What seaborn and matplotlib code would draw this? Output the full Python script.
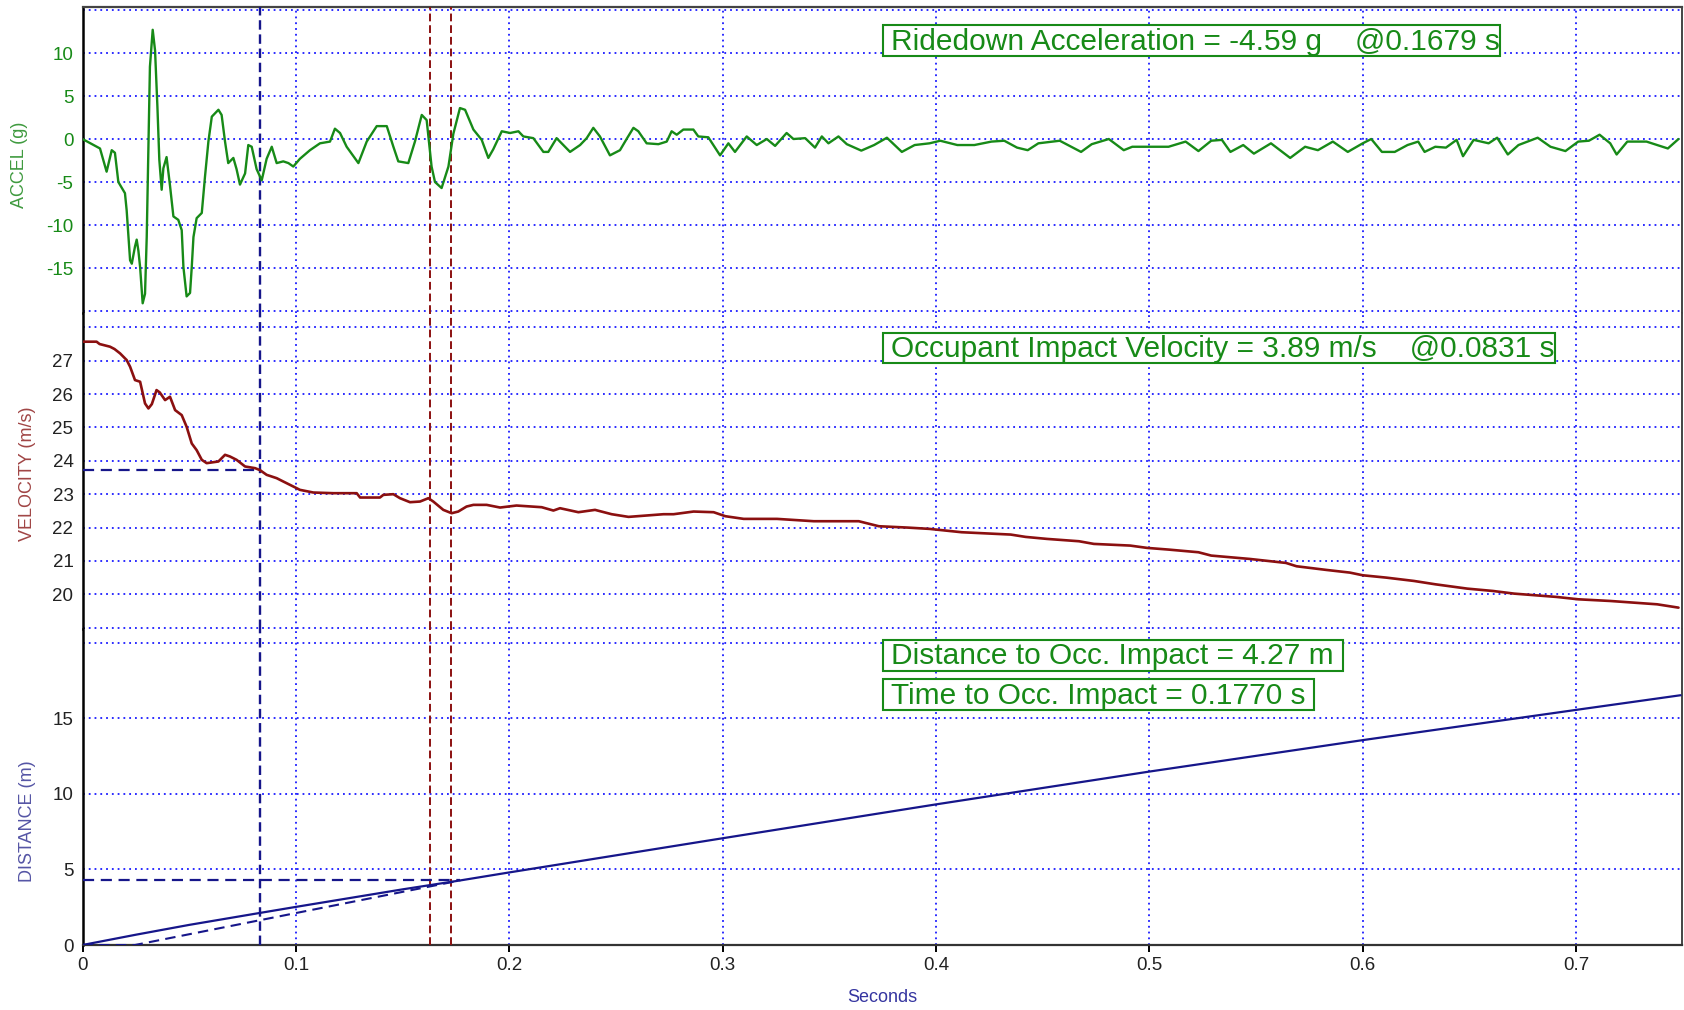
import matplotlib
matplotlib.use("Agg")
import matplotlib.pyplot as plt
from matplotlib.patches import Rectangle
import pandas as pd
import seaborn as sns

# --- accelerometer trace (g) ---
accel_time = [
    0.0000, 0.0082, 0.0113, 0.0137, 0.0152, 0.0168, 0.0199, 0.0207, 0.0223, 0.0231,
    0.0246, 0.0254, 0.0262, 0.0270, 0.0282, 0.0293, 0.0301, 0.0309, 0.0316, 0.0329,
    0.0340, 0.0351, 0.0360, 0.0371, 0.0379, 0.0394, 0.0410, 0.0426, 0.0449, 0.0465,
    0.0473, 0.0488, 0.0504, 0.0512, 0.0520, 0.0535, 0.0559, 0.0574, 0.0590, 0.0606,
    0.0637, 0.0652, 0.0668, 0.0683, 0.0707, 0.0722, 0.0738, 0.0762, 0.0777, 0.0793,
    0.0816, 0.0840, 0.0863, 0.0887, 0.0910, 0.0941, 0.0965, 0.0988, 0.1019, 0.1066,
    0.1113, 0.1160, 0.1183, 0.1207, 0.1238, 0.1293, 0.1332, 0.1379, 0.1426, 0.1457,
    0.1480, 0.1527, 0.1558, 0.1590, 0.1613, 0.1636, 0.1652, 0.1683, 0.1715, 0.1738,
    0.1769, 0.1793, 0.1832, 0.1871, 0.1902, 0.1925, 0.1965, 0.2004, 0.2043, 0.2066,
    0.2113, 0.2160, 0.2183, 0.2222, 0.2285, 0.2332, 0.2363, 0.2394, 0.2425, 0.2472,
    0.2519, 0.2550, 0.2582, 0.2605, 0.2644, 0.2699, 0.2738, 0.2761, 0.2785, 0.2816,
    0.2863, 0.2886, 0.2933, 0.2988, 0.3027, 0.3058, 0.3113, 0.3160, 0.3207, 0.3246,
    0.3300, 0.3332, 0.3387, 0.3433, 0.3465, 0.3496, 0.3543, 0.3582, 0.3650, 0.3710,
    0.3770, 0.3840, 0.3900, 0.3970, 0.4020, 0.4100, 0.4180, 0.4260, 0.4320, 0.4380,
    0.4430, 0.4480, 0.4580, 0.4680, 0.4730, 0.4810, 0.4880, 0.4920, 0.5090, 0.5170,
    0.5230, 0.5290, 0.5340, 0.5380, 0.5440, 0.5490, 0.5570, 0.5660, 0.5730, 0.5790,
    0.5860, 0.5930, 0.6000, 0.6040, 0.6090, 0.6150, 0.6210, 0.6260, 0.6290, 0.6340,
    0.6390, 0.6440, 0.6470, 0.6520, 0.6590, 0.6630, 0.6680, 0.6730, 0.6820, 0.6880,
    0.6950, 0.7010, 0.7060, 0.7110, 0.7160, 0.7190, 0.7240, 0.7330, 0.7380, 0.7430,
    0.7480]
accel_g = [
    0.0, -1.1, -3.8, -1.3, -1.6, -5.0, -6.3, -8.3, -14.1, -14.5,
    -12.5, -11.7, -13.0, -14.9, -19.1, -18.0, -11.4, -0.5, 8.4, 12.7,
    10.3, 3.8, -2.4, -5.9, -3.4, -2.1, -5.4, -9.0, -9.4, -10.6,
    -14.9, -18.3, -17.9, -14.9, -11.4, -9.2, -8.6, -4.4, -0.3, 2.6,
    3.4, 2.8, -0.3, -2.8, -2.2, -3.5, -5.3, -4.0, -0.7, -0.9,
    -3.5, -4.8, -2.3, -0.9, -2.8, -2.6, -2.8, -3.2, -2.3, -1.3,
    -0.5, -0.3, 1.2, 0.7, -0.9, -2.8, -0.3, 1.5, 1.5, -0.9,
    -2.6, -2.8, -0.3, 2.8, 2.2, -3.2, -5.0, -5.7, -3.2, 0.6,
    3.6, 3.4, 1.1, -0.1, -2.2, -1.2, 0.9, 0.7, 0.9, 0.3,
    0.1, -1.5, -1.5, 0.1, -1.5, -0.7, 0.1, 1.3, 0.3, -1.9,
    -1.3, 0.0, 1.3, 0.9, -0.5, -0.6, -0.3, 0.9, 0.5, 1.1,
    1.1, 0.3, 0.2, -1.9, -0.5, -1.5, 0.3, -0.7, 0.0, -0.8,
    0.7, 0.0, 0.1, -1.0, 0.3, -0.5, 0.3, -0.6, -1.35, -0.7,
    0.15, -1.5, -0.7, -0.5, -0.2, -0.7, -0.7, -0.3, -0.2, -1.0,
    -1.3, -0.5, -0.2, -1.5, -0.6, 0.0, -1.3, -0.9, -0.9, -0.3,
    -1.4, -0.2, -0.1, -1.5, -0.7, -1.7, -0.5, -2.2, -0.9, -1.3,
    -0.3, -1.5, -0.5, 0.0, -1.5, -1.5, -0.7, -0.3, -1.5, -0.9,
    -1.0, -0.1, -2.0, -0.1, -0.5, 0.15, -1.8, -0.7, 0.15, -0.9,
    -1.4, -0.3, -0.2, 0.5, -0.5, -1.8, -0.3, -0.3, -0.7, -1.1,
    0.0]

# --- velocity trace (m/s) ---
vel_time = [
    0.0000, 0.0066, 0.0080, 0.0129, 0.0150, 0.0176, 0.0207, 0.0223, 0.0246, 0.0270,
    0.0293, 0.0309, 0.0325, 0.0347, 0.0362, 0.0387, 0.0410, 0.0434, 0.0465, 0.0488,
    0.0512, 0.0535, 0.0559, 0.0582, 0.0637, 0.0668, 0.0691, 0.0722, 0.0762, 0.0809,
    0.0832, 0.0863, 0.0910, 0.0941, 0.0988, 0.1019, 0.1082, 0.1176, 0.1285, 0.1301,
    0.1394, 0.1410, 0.1457, 0.1488, 0.1535, 0.1582, 0.1621, 0.1644, 0.1691, 0.1730,
    0.1761, 0.1800, 0.1832, 0.1894, 0.1957, 0.2034, 0.2152, 0.2207, 0.2238, 0.2324,
    0.2402, 0.2480, 0.2559, 0.2723, 0.2770, 0.2864, 0.2958, 0.3013, 0.3099, 0.3255,
    0.3427, 0.3638, 0.3732, 0.3865, 0.3970, 0.4120, 0.4350, 0.4420, 0.4520, 0.4670,
    0.4740, 0.4910, 0.4990, 0.5090, 0.5230, 0.5290, 0.5470, 0.5640, 0.5690, 0.5830,
    0.5940, 0.6000, 0.6110, 0.6240, 0.6340, 0.6490, 0.6610, 0.6710, 0.6910, 0.7010,
    0.7160, 0.7380, 0.7480]
vel_ms = [
    27.57, 27.57, 27.50, 27.42, 27.35, 27.22, 27.02, 26.82, 26.42, 26.37,
    25.72, 25.57, 25.70, 26.12, 26.05, 25.82, 25.92, 25.52, 25.37, 25.02,
    24.52, 24.32, 24.03, 23.93, 23.98, 24.18, 24.13, 24.03, 23.83, 23.78,
    23.72, 23.58, 23.48, 23.38, 23.23, 23.13, 23.05, 23.03, 23.03, 22.90,
    22.90, 22.98, 23.00, 22.88, 22.76, 22.78, 22.88, 22.78, 22.53, 22.43,
    22.48, 22.63, 22.68, 22.68, 22.60, 22.66, 22.61, 22.51, 22.58, 22.46,
    22.53, 22.40, 22.32, 22.40, 22.40, 22.48, 22.46, 22.34, 22.26, 22.26,
    22.19, 22.19, 22.04, 22.00, 21.96, 21.86, 21.79, 21.72, 21.66, 21.59,
    21.51, 21.46, 21.39, 21.34, 21.26, 21.16, 21.06, 20.94, 20.84, 20.73,
    20.65, 20.57, 20.50, 20.40, 20.30, 20.17, 20.10, 20.02, 19.92, 19.85,
    19.80, 19.70, 19.60]

# --- displacement trace (m) ---
dist_time = [0.0, 0.025, 0.05, 0.0831, 0.1, 0.15, 0.177, 0.2, 0.3, 0.4, 0.5, 0.6, 0.7, 0.749]
dist_m = [0.0, 0.68, 1.33, 2.12, 2.52, 3.68, 4.27, 4.8, 7.06, 9.3, 11.47, 13.55, 15.55, 16.52]

# occupant flail path (dashed) and event markers
flail_time = [0.0, 0.0246, 0.177]
flail_m = [0.0, 0.0, 4.27]
oiv_time = 0.0831
v_at_oiv = 23.72
ridedown_window = [0.1629, 0.1729]
impact_time = 0.177
impact_dist = 4.27

annotations = [
    "Ridedown Acceleration = -4.59 g    @0.1679 s",
    "Occupant Impact Velocity = 3.89 m/s    @0.0831 s",
    "Distance to Occ. Impact = 4.27 m",
    "Time to Occ. Impact = 0.1770 s",
]

assert len(accel_time) == len(accel_g)
assert len(vel_time) == len(vel_ms)

accel = pd.DataFrame({"t": accel_time, "g": accel_g})
vel = pd.DataFrame({"t": vel_time, "v": vel_ms})
dist = pd.DataFrame({"t": dist_time, "d": dist_m})

sns.set_style("white")
plt.rcParams['font.family'] = ['Liberation Sans', 'DejaVu Sans']

W, H = 1684, 1010
GREEN = "#178a17"
RED = "#8b1010"
NAVY = "#16168a"
GRID = "#1a1aff"

fig = plt.figure(figsize=(W / 100, H / 100), dpi=100)
gs = fig.add_gridspec(3, 1, height_ratios=[306, 316, 316], hspace=0,
                      left=82.5 / W, right=1681.5 / W, top=1 - 7 / H, bottom=1 - 945 / H)
ax_a = fig.add_subplot(gs[0])
ax_v = fig.add_subplot(gs[1], sharex=ax_a)
ax_d = fig.add_subplot(gs[2], sharex=ax_a)

grid_kw = dict(color=GRID, lw=1.3, ls=(0, (1, 2.2)), zorder=1)
panels = [
    (ax_a, (-20.23, 15.35), [-20, -15, -10, -5, 0, 5, 10, 15], [-15, -10, -5, 0, 5, 10], GREEN),
    (ax_v, (18.96, 28.43), list(range(19, 29)), list(range(20, 28)), "#222222"),
    (ax_d, (0, 20.9), [5, 10, 15, 20], [0, 5, 10, 15], "#222222"),
]
for ax, ylim, gridvals, ticks, tcol in panels:
    ax.set_ylim(*ylim)
    for y in gridvals:
        ax.axhline(y, **grid_kw)
    for x in [0.1, 0.2, 0.3, 0.4, 0.5, 0.6, 0.7]:
        ax.axvline(x, **grid_kw)
    ax.set_yticks(ticks)
    ax.set_yticklabels([str(t) for t in ticks])
    ax.tick_params(axis="y", direction="inout", length=7, width=1.4, color="black",
                   labelsize=13.5, labelcolor=tcol, pad=3)
    ax.set_ylabel("")
    for s in ["left", "right", "top", "bottom"]:
        ax.spines[s].set_visible(False)
    ax.spines["left"].set_visible(True)
    ax.spines["left"].set_color("black")
    ax.spines["left"].set_linewidth(1.8)
    ax.spines["right"].set_visible(True)
    ax.spines["right"].set_color("#444444")
    ax.spines["right"].set_linewidth(1.4)
    # event markers across every panel
    ax.axvline(oiv_time, color=NAVY, lw=1.7, ls=(0, (4, 2)), zorder=3)
    for x in ridedown_window:
        ax.axvline(x, color=RED, lw=1.4, ls=(0, (4, 2)), zorder=3)

ax_a.spines["top"].set_visible(True)
ax_a.spines["top"].set_color("#444444")
ax_a.spines["top"].set_linewidth(1.6)
ax_d.spines["bottom"].set_visible(True)
ax_d.spines["bottom"].set_color("#333333")
ax_d.spines["bottom"].set_linewidth(1.6)

sns.lineplot(data=accel, x="t", y="g", ax=ax_a, color=GREEN, lw=1.7, estimator=None, zorder=4)
sns.lineplot(data=vel, x="t", y="v", ax=ax_v, color=RED, lw=1.9, estimator=None, zorder=4)
sns.lineplot(data=dist, x="t", y="d", ax=ax_d, color=NAVY, lw=1.6, estimator=None, zorder=4)
sns.lineplot(x=flail_time, y=flail_m, ax=ax_d, color=NAVY, lw=1.5, ls=(0, (5, 3)),
             estimator=None, zorder=4)
ax_v.hlines(v_at_oiv, 0, oiv_time, color=NAVY, lw=1.6, ls=(0, (5, 3)), zorder=3)
ax_d.hlines(impact_dist, 0, impact_time, color=NAVY, lw=1.6, ls=(0, (5, 3)), zorder=3)

for ax in (ax_a, ax_v, ax_d):
    ax.set_xlabel("")
    ax.set_ylabel("")
ax_a.set_xlim(0, 0.7494)
ax_d.set_xticks([0, 0.1, 0.2, 0.3, 0.4, 0.5, 0.6, 0.7])
ax_d.set_xticklabels(["0", "0.1", "0.2", "0.3", "0.4", "0.5", "0.6", "0.7"])
ax_d.tick_params(axis="x", direction="out", length=5, width=1.4, color="black",
                 labelsize=13.5, labelcolor="#222222", pad=4, bottom=True)
for ax in (ax_a, ax_v):
    ax.tick_params(axis="x", bottom=False, labelbottom=False)

# axis titles placed at their reference pixel positions
def px(x, y):
    return x / W, 1 - y / H

fig.text(*px(20, 165), "ACCEL (g)", rotation=90, ha="center", va="center",
         fontsize=13, color="#3f9a3f")
fig.text(*px(27, 474), "VELOCITY (m/s)", rotation=90, ha="center", va="center",
         fontsize=13, color="#a04545")
fig.text(*px(27, 821), "DISTANCE (m)", rotation=90, ha="center", va="center",
         fontsize=13, color="#5555a5")
fig.text(*px(882, 998), "Seconds", ha="center", va="center", fontsize=13, color="#3535a0")

# boxed result annotations
boxes = [(883, 25, 1500, 56), (883, 333, 1555, 363), (883, 640, 1343, 671), (883, 679, 1314, 710)]
for label, (x0, y0, x1, y1) in zip(annotations, boxes):
    fig.patches.append(Rectangle(px(x0, y1), (x1 - x0) / W, (y1 - y0) / H,
                                 transform=fig.transFigure, facecolor="white",
                                 edgecolor=GREEN, lw=1.5, zorder=5))
    fig.text(*px(x0 + 8, (y0 + y1) / 2 + 1), label, ha="left", va="center",
             fontsize=21.5, color=GREEN, zorder=6)

fig.savefig("out.png", dpi=100)
